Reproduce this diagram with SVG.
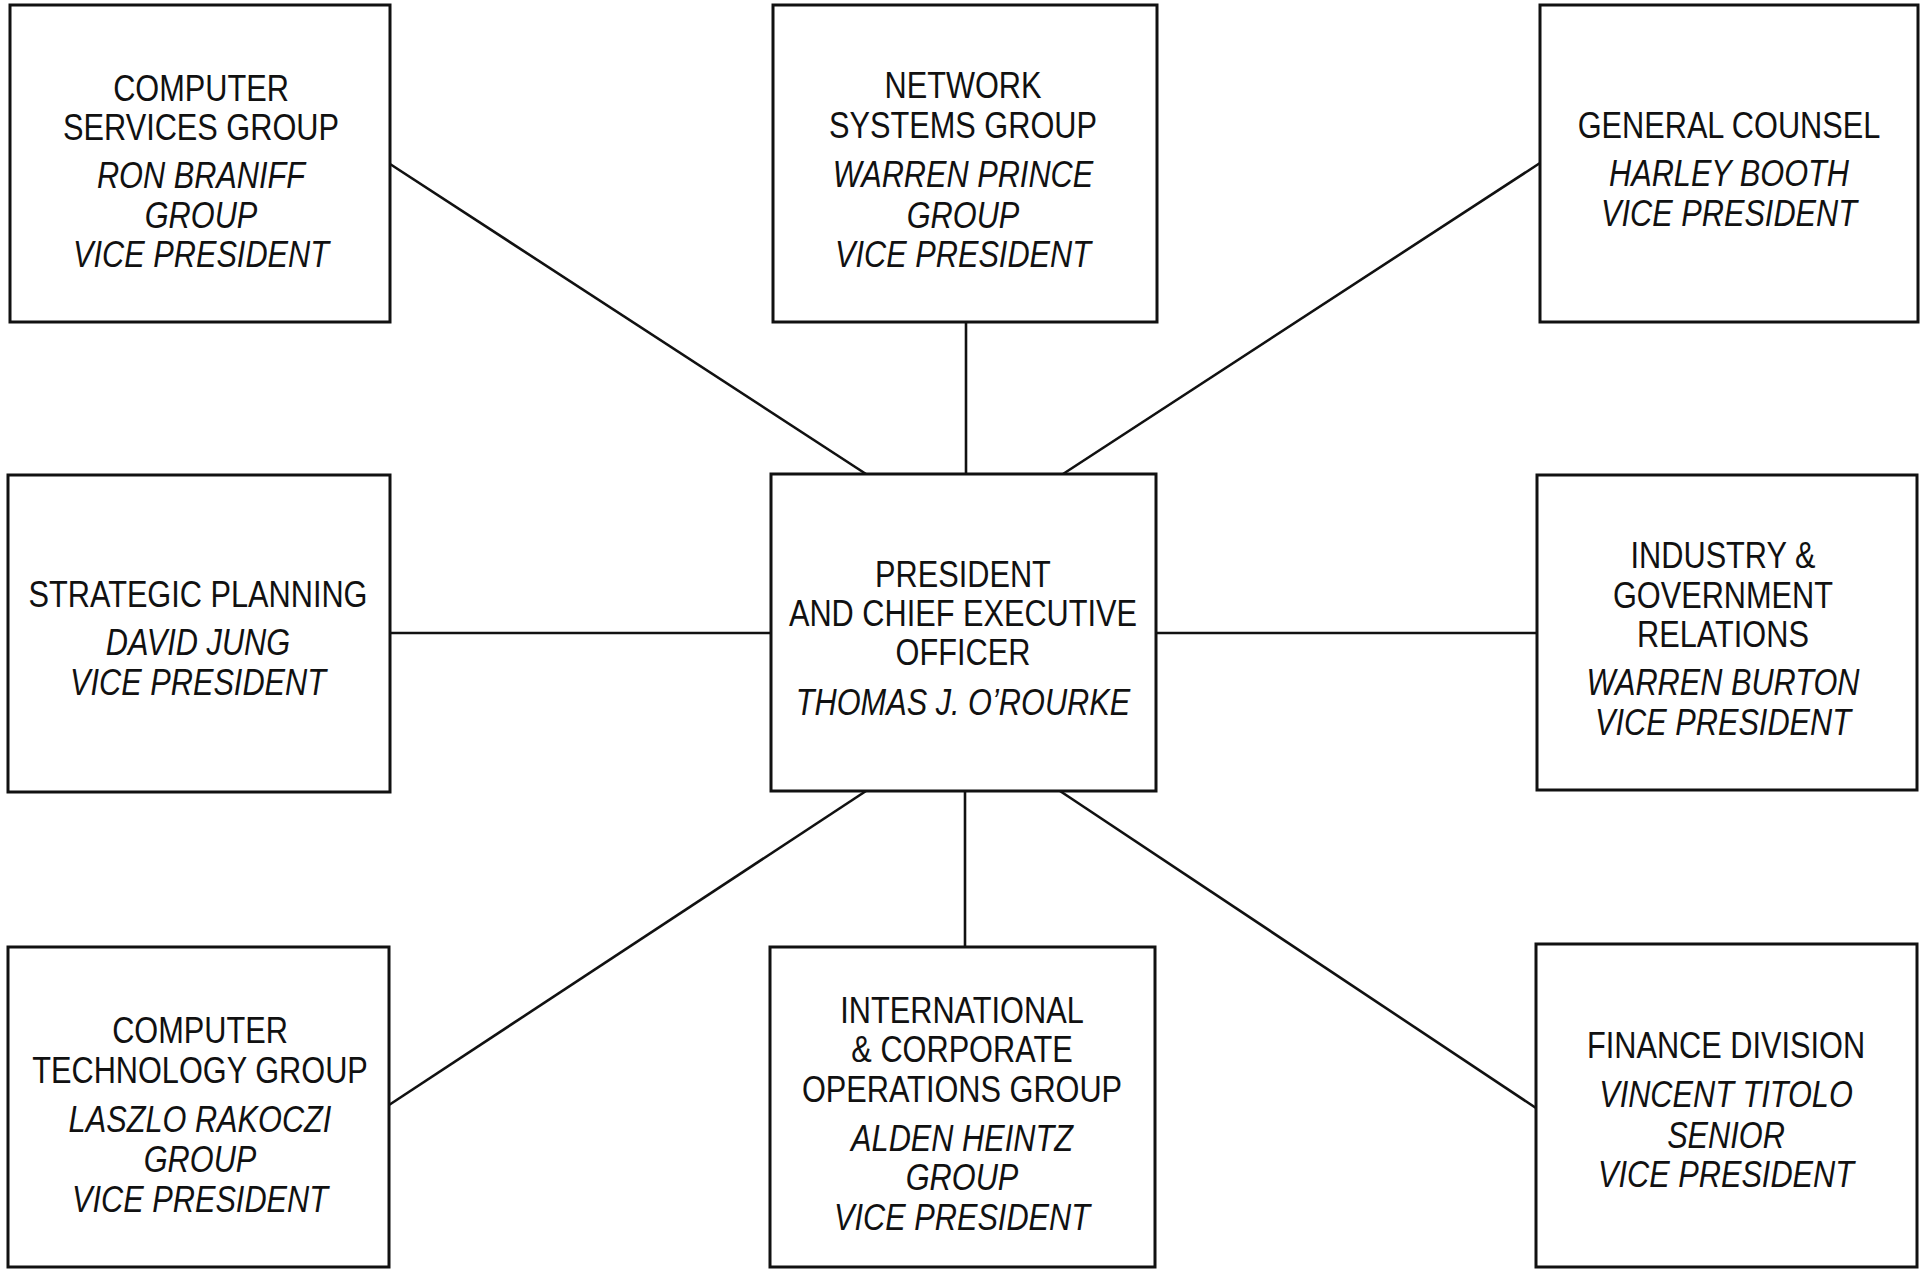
<svg xmlns="http://www.w3.org/2000/svg" width="1924" height="1269" viewBox="0 0 1924 1269">
<style>
.box{fill:#fff;stroke:#111;stroke-width:3}
.ln{stroke:#111;stroke-width:2.6;fill:none}
text{font-family:"Liberation Sans",Arial,sans-serif;font-size:37px;fill:#111;text-anchor:middle}
.i{font-style:italic}
</style>
<rect width="1924" height="1269" fill="#fff"/>
<g id="connectors">
<line class="ln" x1="390" y1="164" x2="866" y2="474"/>
<line class="ln" x1="966" y1="322" x2="966" y2="474"/>
<line class="ln" x1="1540" y1="163" x2="1063" y2="474"/>
<line class="ln" x1="390" y1="633" x2="771" y2="633"/>
<line class="ln" x1="1156" y1="633" x2="1537" y2="633"/>
<line class="ln" x1="389" y1="1105" x2="866" y2="791"/>
<line class="ln" x1="965" y1="791" x2="965" y2="947"/>
<line class="ln" x1="1536" y1="1108" x2="1060" y2="791"/>
</g>
<g id="computer-services">
<rect class="box" x="10" y="5" width="380" height="317"/>
<g transform="translate(201 0) scale(0.83 1)">
<text y="101">COMPUTER</text>
<text y="140">SERVICES GROUP</text>
<text class="i" y="188">RON BRANIFF</text>
<text class="i" y="228">GROUP</text>
<text class="i" y="267">VICE PRESIDENT</text>
</g>
</g>
<g id="network-systems">
<rect class="box" x="773" y="5" width="384" height="317"/>
<g transform="translate(963 0) scale(0.83 1)">
<text y="98">NETWORK</text>
<text y="138">SYSTEMS GROUP</text>
<text class="i" y="187">WARREN PRINCE</text>
<text class="i" y="228">GROUP</text>
<text class="i" y="267">VICE PRESIDENT</text>
</g>
</g>
<g id="general-counsel">
<rect class="box" x="1540" y="5" width="378" height="317"/>
<g transform="translate(1729 0) scale(0.83 1)">
<text y="138">GENERAL COUNSEL</text>
<text class="i" y="186">HARLEY BOOTH</text>
<text class="i" y="226">VICE PRESIDENT</text>
</g>
</g>
<g id="strategic-planning">
<rect class="box" x="8" y="475" width="382" height="317"/>
<g transform="translate(198 0) scale(0.83 1)">
<text y="607">STRATEGIC PLANNING</text>
<text class="i" y="655">DAVID JUNG</text>
<text class="i" y="695">VICE PRESIDENT</text>
</g>
</g>
<g id="president">
<rect class="box" x="771" y="474" width="385" height="317"/>
<g transform="translate(963 0) scale(0.83 1)">
<text y="587">PRESIDENT</text>
<text y="626">AND CHIEF EXECUTIVE</text>
<text y="665">OFFICER</text>
<text class="i" y="715">THOMAS J.  O’ROURKE</text>
</g>
</g>
<g id="industry-government">
<rect class="box" x="1537" y="475" width="380" height="315"/>
<g transform="translate(1723 0) scale(0.83 1)">
<text y="568">INDUSTRY &amp;</text>
<text y="608">GOVERNMENT</text>
<text y="647">RELATIONS</text>
<text class="i" y="695">WARREN BURTON</text>
<text class="i" y="735">VICE PRESIDENT</text>
</g>
</g>
<g id="computer-technology">
<rect class="box" x="8" y="947" width="381" height="320"/>
<g transform="translate(200 0) scale(0.83 1)">
<text y="1043">COMPUTER</text>
<text y="1083">TECHNOLOGY GROUP</text>
<text class="i" y="1132">LASZLO RAKOCZI</text>
<text class="i" y="1172">GROUP</text>
<text class="i" y="1212">VICE PRESIDENT</text>
</g>
</g>
<g id="international-corporate">
<rect class="box" x="770" y="947" width="385" height="320"/>
<g transform="translate(962 0) scale(0.83 1)">
<text y="1023">INTERNATIONAL</text>
<text y="1062">&amp; CORPORATE</text>
<text y="1102">OPERATIONS GROUP</text>
<text class="i" y="1151">ALDEN HEINTZ</text>
<text class="i" y="1190">GROUP</text>
<text class="i" y="1230">VICE PRESIDENT</text>
</g>
</g>
<g id="finance">
<rect class="box" x="1536" y="944" width="381" height="323"/>
<g transform="translate(1726 0) scale(0.83 1)">
<text y="1058">FINANCE DIVISION</text>
<text class="i" y="1107">VINCENT TITOLO</text>
<text class="i" y="1148">SENIOR</text>
<text class="i" y="1187">VICE PRESIDENT</text>
</g>
</g>
</svg>
